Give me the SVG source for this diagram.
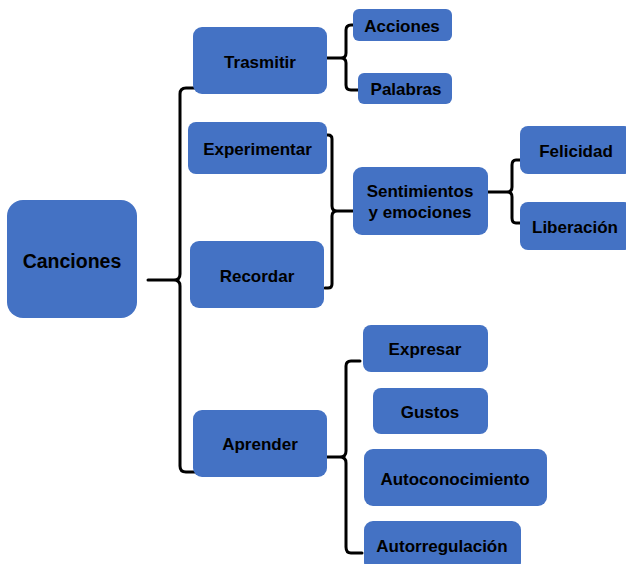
<svg xmlns="http://www.w3.org/2000/svg" width="626" height="564" viewBox="0 0 626 564">
  <style>
    .box { fill: #4472C4; }
    .lbl { font-family: "Liberation Sans", Arial, sans-serif; font-weight: bold; font-size: 17px; fill: #000; text-anchor: middle; }
    .big { font-size: 19.5px; }
    .brace { fill: none; stroke: #000; stroke-width: 3; stroke-linecap: round; stroke-linejoin: round; }
  </style>
  <rect width="626" height="564" fill="#fff"/>

  <g id="connectors">
    <!-- Canciones to its four branches -->
    <path class="brace" d="M199 88 H186 Q180 88 180 94 V274 Q180 280 174 280 H148 M174 280 Q180 280 180 286 V466 Q180 472 186 472 H200"/>
    <!-- Trasmitir to Acciones / Palabras -->
    <path class="brace" d="M356 25 H351 Q346 25 346 30 V53 Q346 58 341 58 H327 M341 58 Q346 58 346 63 V85 Q346 90 351 90 H358"/>
    <!-- Experimentar / Recordar to Sentimientos -->
    <path class="brace" d="M326 135 H328 Q332 135 332 139 V206 Q332 211 337 211 H353 M337 211 Q332 211 332 216 V284 Q332 288 328 288 H325"/>
    <!-- Sentimientos to Felicidad / Liberación -->
    <path class="brace" d="M520 160 H516 Q512 160 512 165 V187 Q512 192 507 192 H488 M507 192 Q512 192 512 197 V218 Q512 223 516 223 H520"/>
    <!-- Aprender to its four branches -->
    <path class="brace" d="M360 361 H351 Q346 361 346 366 V451 Q346 457 340 457 H322 M340 457 Q346 457 346 463 V547 Q346 553 351 553 H362"/>
  </g>

  <g id="canciones">
    <rect class="box" x="7" y="200" width="130" height="118" rx="16"/>
    <text class="lbl big" x="72" y="268">Canciones</text>
  </g>
  <g id="trasmitir">
    <rect class="box" x="193" y="27" width="134" height="67" rx="9"/>
    <text class="lbl" x="260" y="68">Trasmitir</text>
  </g>
  <g id="experimentar">
    <rect class="box" x="188" y="122" width="139" height="52" rx="8"/>
    <text class="lbl" x="257.5" y="155">Experimentar</text>
  </g>
  <g id="recordar">
    <rect class="box" x="190" y="241" width="134" height="67" rx="9"/>
    <text class="lbl" x="257" y="282">Recordar</text>
  </g>
  <g id="aprender">
    <rect class="box" x="193" y="410" width="134" height="67" rx="9"/>
    <text class="lbl" x="260" y="450">Aprender</text>
  </g>
  <g id="acciones">
    <rect class="box" x="353" y="9" width="99" height="32" rx="6"/>
    <text class="lbl" x="402" y="32">Acciones</text>
  </g>
  <g id="palabras">
    <rect class="box" x="358" y="73" width="94" height="31" rx="6"/>
    <text class="lbl" x="406" y="95">Palabras</text>
  </g>
  <g id="sentimientos">
    <rect class="box" x="353" y="167" width="135" height="68" rx="9"/>
    <text class="lbl" x="420" y="197">Sentimientos</text>
    <text class="lbl" x="420" y="218">y emociones</text>
  </g>
  <g id="felicidad">
    <rect class="box" x="520" y="126" width="112" height="48" rx="8"/>
    <text class="lbl" x="576" y="157">Felicidad</text>
  </g>
  <g id="liberacion">
    <rect class="box" x="520" y="202" width="112" height="48" rx="8"/>
    <text class="lbl" x="575" y="233">Liberación</text>
  </g>
  <g id="expresar">
    <rect class="box" x="363" y="325" width="125" height="47" rx="8"/>
    <text class="lbl" x="425" y="355">Expresar</text>
  </g>
  <g id="gustos">
    <rect class="box" x="373" y="388" width="115" height="46" rx="8"/>
    <text class="lbl" x="430" y="418">Gustos</text>
  </g>
  <g id="autoconocimiento">
    <rect class="box" x="364" y="449" width="183" height="57" rx="9"/>
    <text class="lbl" x="455" y="485">Autoconocimiento</text>
  </g>
  <g id="autorregulacion">
    <rect class="box" x="364" y="521" width="157" height="50" rx="9"/>
    <text class="lbl" x="442" y="552">Autorregulación</text>
  </g>
</svg>
